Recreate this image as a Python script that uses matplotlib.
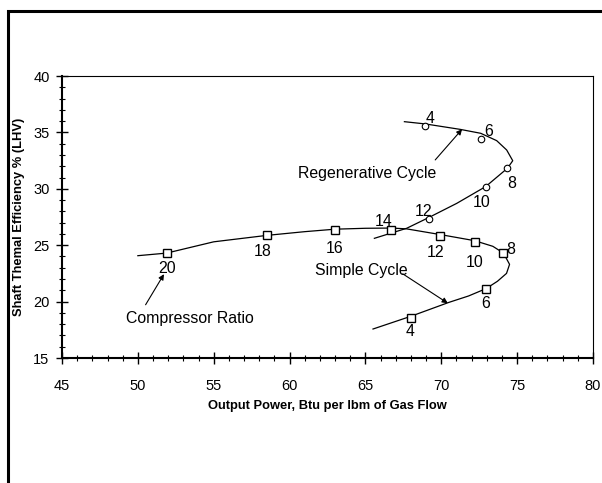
import matplotlib
matplotlib.use("Agg")
import matplotlib.pyplot as plt
from matplotlib.patches import Rectangle
from matplotlib.ticker import MultipleLocator

plt.rcParams['font.family'] = ['Liberation Sans', 'DejaVu Sans']

# simple cycle: markers at compressor ratios
simple_ratio = [20, 18, 16, 14, 12, 10, 8, 6, 4]
simple_x = [51.9, 58.5, 63.0, 66.7, 69.9, 72.2, 74.05, 72.95, 68.0]
simple_y = [24.3, 25.87, 26.38, 26.36, 25.84, 25.29, 24.29, 21.15, 18.54]

# simple cycle: smoothed curve
simple_line_x = [50.0, 51.9, 55.0, 58.5, 61.0, 63.0, 65.0, 66.7, 67.7, 69.9,
                 72.2, 73.4, 74.1, 74.5, 74.3, 73.7, 72.95, 71.8, 70.5, 68.0, 65.5]
simple_line_y = [24.07, 24.3, 25.3, 25.87, 26.2, 26.42, 26.5, 26.52, 26.45, 25.95,
                 25.4, 24.9, 24.3, 23.3, 22.5, 21.8, 21.15, 20.5, 19.93, 18.7, 17.57]

# regenerative cycle: markers at compressor ratios
regen_ratio = [4, 6, 8, 10, 12]
regen_x = [68.95, 72.6, 74.36, 72.93, 69.17]
regen_y = [35.57, 34.44, 31.82, 30.19, 27.35]

# regenerative cycle: smoothed curve
regen_line_x = [67.57, 68.95, 71.24, 72.6, 73.65, 74.31, 74.71, 74.36, 72.93,
                71.02, 69.17, 67.72, 65.59]
regen_line_y = [35.95, 35.75, 35.27, 34.92, 34.27, 33.44, 32.49, 31.82, 30.2,
                28.71, 27.45, 26.5, 25.61]

fig = plt.figure(figsize=(6.02, 4.83), dpi=100)
fig.add_artist(Rectangle((7.5 / 602, -0.1), 1.2, 0.1 + 1 - 10.5 / 483,
                         transform=fig.transFigure, fill=False,
                         edgecolor='black', linewidth=2.2))

ax = fig.add_axes([62 / 602, 1 - 358 / 483, 531 / 602, 282 / 483])

ax.plot(simple_line_x, simple_line_y, color='black', linewidth=0.9)
ax.plot(regen_line_x, regen_line_y, color='black', linewidth=0.9)
ax.plot(simple_x, simple_y, linestyle='none', marker='s', markersize=6.3,
        markerfacecolor='white', markeredgecolor='black', markeredgewidth=1.0)
ax.plot(regen_x, regen_y, linestyle='none', marker='o', markersize=4.7,
        markerfacecolor='white', markeredgecolor='black', markeredgewidth=0.8)

fs = 11.4
simple_lbl = [(51.9, 22.9), (58.25, 24.45), (62.95, 24.72), (66.23, 27.08),
              (69.59, 24.37), (72.23, 23.48), (74.6, 24.66), (72.9, 19.8), (67.95, 17.35)]
for r, (lx, ly) in zip(simple_ratio, simple_lbl):
    ax.text(lx, ly, str(r), fontsize=fs, ha='center', va='center')
regen_lbl = [(69.26, 36.25), (73.1, 35.06), (74.64, 30.49), (72.67, 28.77), (68.82, 27.97)]
for r, (lx, ly) in zip(regen_ratio, regen_lbl):
    ax.text(lx, ly, str(r), fontsize=fs, ha='center', va='center')

arrow = dict(arrowstyle='-|>', color='black', linewidth=0.8, mutation_scale=8,
             shrinkA=0, shrinkB=0)
ax.text(65.13, 31.37, 'Regenerative Cycle', fontsize=fs, ha='center', va='center')
ax.annotate('', xy=(71.37, 35.28), xytext=(69.6, 32.56), arrowprops=arrow)
ax.text(64.75, 22.8, 'Simple Cycle', fontsize=fs, ha='center', va='center')
ax.annotate('', xy=(70.43, 19.86), xytext=(67.46, 22.46), arrowprops=arrow)
ax.text(53.44, 18.48, 'Compressor Ratio', fontsize=fs, ha='center', va='center')
ax.annotate('', xy=(51.72, 22.43), xytext=(50.51, 19.72), arrowprops=arrow)

ax.set_xlim(45, 80)
ax.set_ylim(15, 40)
ax.xaxis.set_major_locator(MultipleLocator(5))
ax.xaxis.set_minor_locator(MultipleLocator(1))
ax.yaxis.set_major_locator(MultipleLocator(5))
ax.yaxis.set_minor_locator(MultipleLocator(1))
ax.tick_params(which='major', direction='inout', length=8, width=1.0,
               labelsize=10.5, top=False, right=False)
ax.tick_params(axis='x', which='major', pad=11)
ax.tick_params(axis='y', which='major', pad=5)
ax.tick_params(which='minor', direction='inout', length=5, width=0.8,
               top=False, right=False)
for s in ['left', 'bottom']:
    ax.spines[s].set_linewidth(1.5)
for s in ['top', 'right']:
    ax.spines[s].set_linewidth(0.8)

ax.set_xlabel('Output Power, Btu per lbm of Gas Flow', fontsize=9.3,
              fontweight='bold')
ax.set_ylabel('Shaft Themal Efficiency % (LHV)', fontsize=9.3,
              fontweight='bold')
# label anchors: top edge of x label, right edge of rotated y label
ax.xaxis.set_label_coords(0.5, -(400 - 358) / 282)
ax.yaxis.set_label_coords(-(62 - 25) / 531, 0.5)

fig.savefig('out.png', dpi=100)
